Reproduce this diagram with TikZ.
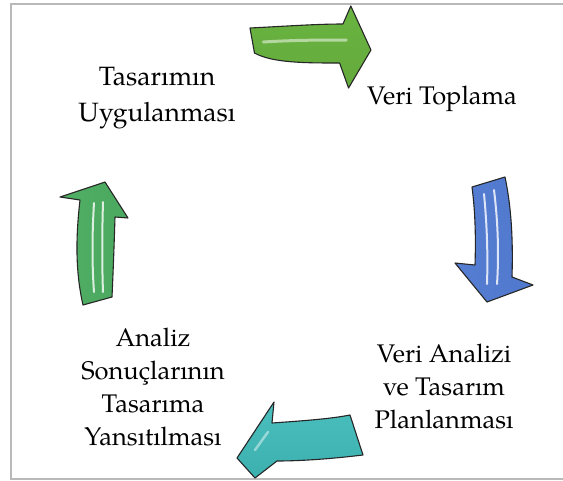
\documentclass[tikz,border=0pt]{standalone}
\usepackage{fontspec}
\setmainfont{texgyrepagella}[Extension=.otf,UprightFont=*-regular]
\begin{document}
\begin{tikzpicture}[x=1pt,y=-1pt,
  lbl/.style={align=center,font=\fontsize{25.5}{33}\selectfont,inner sep=0pt},
  arrowline/.style={draw=black!85,line width=1.1pt,line join=round},
  glint/.style={white,opacity=0.8,line width=2pt,line cap=round}]
\useasboundingbox (0,0) rectangle (563,480);
\definecolor{frame}{RGB}{185,185,185}
\draw[frame,line width=2pt] (566,4) -- (11,4) -- (11,479) -- (566,479);

% text nodes
\node[lbl,font=\fontsize{26.5}{36}\selectfont] (tu) at (157,98) {Tasarımın\\Uygulanması};
\node[lbl] (vt) at (442,99) {Veri Toplama};
\node[lbl] (va) at (444,386) {Veri Analizi\\ve Tasarım\\Planlanması};
\node[lbl] (as) at (153,387) {Analiz\\Sonuçlarının\\Tasarıma\\Yansıtılması};

% top arrow (green, right)
\begin{scope}[shift={(250,0)},xscale=1.12]
\shade[arrowline,top color={rgb,255:red,105;green,180;blue,65},middle color={rgb,255:red,180;green,230;blue,135},bottom color={rgb,255:red,100;green,170;blue,60}]
 (0,28) .. controls (35,26) and (60,24) .. (83,24) -- (90,6) -- (108,50) -- (88,88) -- (80,63)
 .. controls (50,63) and (20,63) .. (4,53) -- cycle;
\draw[white,opacity=0.5,line width=3pt,line cap=round] (12,42) .. controls (40,40) and (65,40) .. (86,40);
\end{scope}

% right arrow (blue, down)
\shade[arrowline,left color={rgb,255:red,85;green,125;blue,210},middle color={rgb,255:red,165;green,195;blue,240},right color={rgb,255:red,80;green,120;blue,205}]
 (472,187) -- (505,177) .. controls (512,210) and (513,245) .. (512,277) -- (533,285) -- (487,302)
 -- (455,263) -- (475,265) .. controls (476,235) and (475,210) .. (472,187) -- cycle;
\draw[glint] (484,194) .. controls (487,225) and (488,255) .. (487,284);
\draw[glint] (494,190) .. controls (498,222) and (499,255) .. (497,284);

% bottom arrow (teal, left)
\shade[arrowline,top color={rgb,255:red,75;green,190;blue,190},middle color={rgb,255:red,140;green,220;blue,220},bottom color={rgb,255:red,60;green,175;blue,175}]
 (237,458) -- (274,402) -- (272,423) .. controls (300,421) and (330,419) .. (350,415) -- (363,455)
 .. controls (330,459) and (300,461) .. (277,461) -- (255,478) -- cycle;
\draw[white,opacity=0.45,line width=2.5pt,line cap=round] (255,450) -- (268,432);

% left arrow (green, up)
\shade[arrowline,left color={rgb,255:red,80;green,175;blue,100},middle color={rgb,255:red,160;green,222;blue,170},right color={rgb,255:red,75;green,168;blue,95}]
 (105,182) -- (128,218) -- (115,217) .. controls (114,250) and (113,275) .. (112,297) -- (83,305)
 .. controls (75,270) and (76,235) .. (80,200) -- (60,197) -- cycle;
\draw[glint] (94,203) .. controls (92,235) and (92,265) .. (94,292);
\draw[glint] (103,202) .. controls (102,235) and (102,265) .. (103,292);
\end{tikzpicture}
\end{document}
